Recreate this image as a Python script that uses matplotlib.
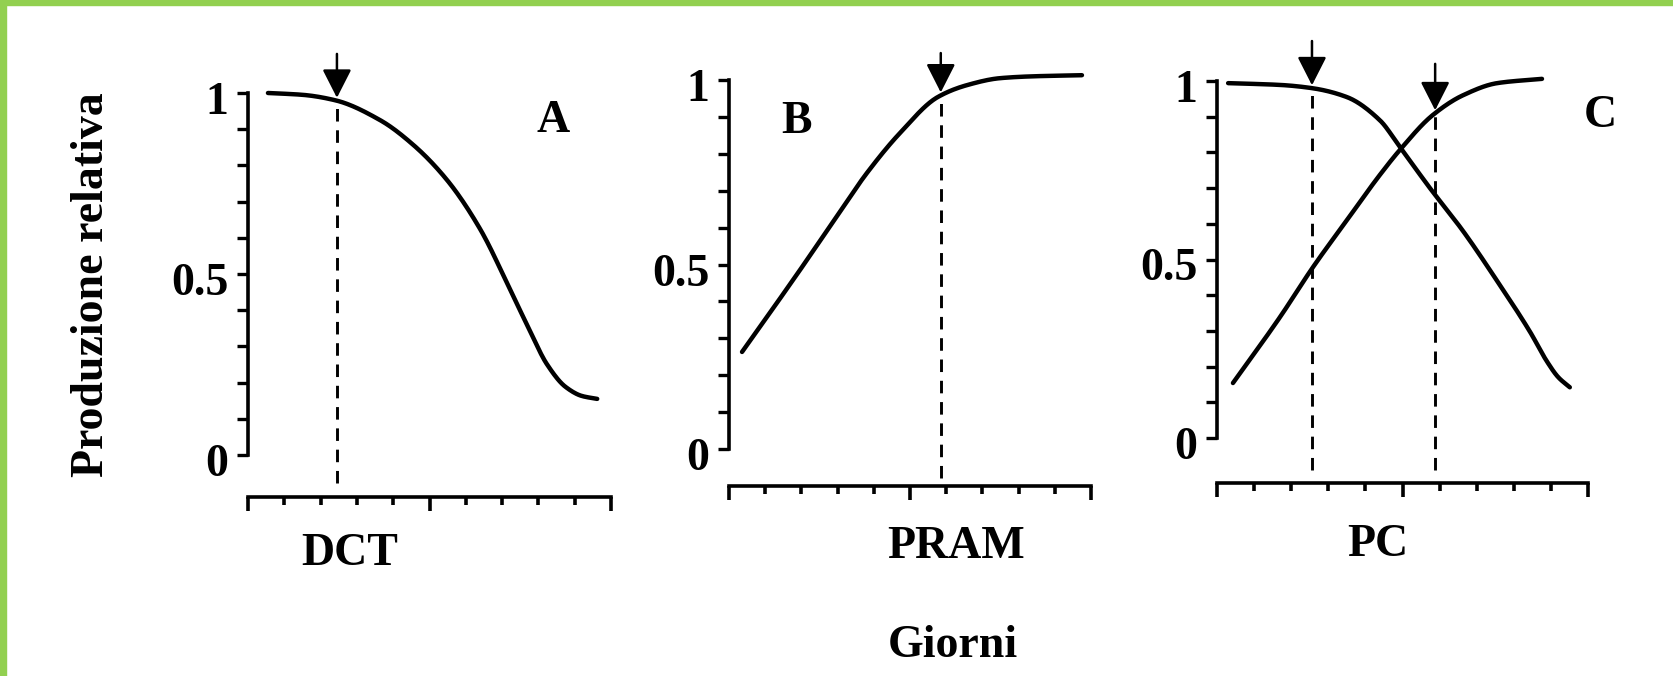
import numpy as np
import matplotlib
matplotlib.use('Agg')
import matplotlib.pyplot as plt
from matplotlib.patches import Rectangle
from matplotlib.transforms import ScaledTranslation

plt.rcParams['font.family'] = ['Liberation Serif', 'DejaVu Serif']
plt.rcParams['font.weight'] = 'bold'

W, H = 1673, 676

# --- dati (giorni 0-10, produzione relativa 0-1) ---
dct_x = [0.55, 1.5, 2.4, 3.64, 4.55, 5.48, 6.39, 7.3, 7.7, 8.24, 8.75, 9.2, 9.62]
dct_y = [1.0, 0.995, 0.98, 0.925, 0.857, 0.76, 0.625, 0.44, 0.357, 0.25, 0.188, 0.163, 0.155]

pram_x = [0.36, 1.05, 1.96, 2.87, 3.81, 4.72, 5.77, 6.57, 7.49, 8.4, 9.75]
pram_y = [0.263, 0.358, 0.485, 0.615, 0.748, 0.856, 0.954, 0.986, 1.005, 1.01, 1.013]

pc_down_x = [0.3, 1.7, 2.56, 3.5, 4.39, 4.93, 5.74, 6.63, 7.55, 8.44, 8.89, 9.2, 9.51]
pc_down_y = [0.994, 0.989, 0.98, 0.955, 0.89, 0.815, 0.7, 0.58, 0.44, 0.297, 0.215, 0.17, 0.142]
pc_up_x = [0.43, 1.7, 2.59, 3.5, 4.39, 4.93, 5.82, 6.63, 7.55, 8.76]
pc_up_y = [0.154, 0.339, 0.479, 0.61, 0.737, 0.807, 0.905, 0.96, 0.994, 1.006]

dct_mark = 2.45
pram_mark = 5.85
pc_marks = [2.56, 5.88]

y_ticks = [0, 0.5, 1]
y_tick_labels = ['0', '0.5', '1']


def smooth(x, y, n=300):
    # interpolazione cubica monotona (Fritsch-Carlson), solo per disegnare
    x = np.asarray(x, float)
    y = np.asarray(y, float)
    h = np.diff(x)
    d = np.diff(y) / h
    m = np.zeros_like(y)
    m[0], m[-1] = d[0], d[-1]
    for i in range(1, len(x) - 1):
        if d[i - 1] * d[i] <= 0:
            m[i] = 0
        else:
            w1 = 2 * h[i] + h[i - 1]
            w2 = h[i] + 2 * h[i - 1]
            m[i] = (w1 + w2) / (w1 / d[i - 1] + w2 / d[i])
    xs = np.linspace(x[0], x[-1], n)
    k = np.clip(np.searchsorted(x, xs) - 1, 0, len(x) - 2)
    t = (xs - x[k]) / h[k]
    h00 = 2 * t ** 3 - 3 * t ** 2 + 1
    h10 = t ** 3 - 2 * t ** 2 + t
    h01 = -2 * t ** 3 + 3 * t ** 2
    h11 = t ** 3 - t ** 2
    ys = h00 * y[k] + h10 * h[k] * m[k] + h01 * y[k + 1] + h11 * h[k] * m[k + 1]
    return xs, ys


def make_axes(fig, x0, x1, y0, y1, xaxis_y):
    ax = fig.add_axes([x0 / W, 1 - y0 / H, (x1 - x0) / W, (y0 - y1) / H])
    ax.set_xlim(0, 10)
    ax.set_ylim(0, 1)
    ax.patch.set_alpha(0)
    for s in ['top', 'right']:
        ax.spines[s].set_visible(False)
    ax.spines['left'].set_linewidth(2.6)
    ax.spines['bottom'].set_linewidth(2.6)
    ax.spines['left'].set_bounds(0, 1)
    ax.spines['bottom'].set_position(('outward', (xaxis_y - y0) * 0.72))
    ax.spines['bottom'].set_bounds(0, 10)
    ax.set_xticks([0, 5, 10])
    ax.set_xticks(np.arange(11), minor=True)
    ax.tick_params(axis='x', which='major', length=10, width=2.6, labelbottom=False)
    ax.tick_params(axis='x', which='minor', length=5.5, width=2.6)
    ax.set_yticks(y_ticks)
    ax.set_yticklabels(y_tick_labels)
    ax.set_yticks(np.arange(0, 1.01, 0.1), minor=True)
    ax.tick_params(axis='y', which='both', length=8, width=2.4, pad=6)
    ax.tick_params(axis='y', which='major', labelsize=33)
    off = ScaledTranslation(0, -0.05, fig.dpi_scale_trans)
    for lab in ax.get_yticklabels():
        lab.set_transform(lab.get_transform() + off)
    return ax


def curve(ax, x, y):
    sx, sy = smooth(x, y)
    ax.plot(sx, sy, color='black', lw=3.2, solid_capstyle='round', clip_on=False)


def marker(ax, xm, x, y, top, bottom):
    sx, sy = smooth(x, y)
    yc = np.interp(xm, sx, sy)
    ax.plot([xm, xm], [bottom, yc], color='black', lw=2.1,
            linestyle=(0, (4.3, 3.0)), clip_on=False)
    ax.annotate('', xy=(xm, yc + 0.008), xytext=(xm, top),
                arrowprops=dict(arrowstyle='-|>,head_length=0.55,head_width=0.28',
                                lw=1.8, color='black',
                                mutation_scale=32, shrinkA=0, shrinkB=0),
                annotation_clip=False)


fig = plt.figure(figsize=(W / 100, H / 100), dpi=100)
fig.patch.set_facecolor('white')

axA = make_axes(fig, 248, 611, 455, 93, 497)
curve(axA, dct_x, dct_y)
marker(axA, dct_mark, dct_x, dct_y, 1.108, -0.077)

axB = make_axes(fig, 729, 1091, 449, 80, 486)
curve(axB, pram_x, pram_y)
marker(axB, pram_mark, pram_x, pram_y, 1.073, -0.079)

axC = make_axes(fig, 1217, 1588, 438, 81, 483)
curve(axC, pc_down_x, pc_down_y)
curve(axC, pc_up_x, pc_up_y)
marker(axC, pc_marks[0], pc_down_x, pc_down_y, 1.112, -0.09)
marker(axC, pc_marks[1], pc_up_x, pc_up_y, 1.048, -0.09)

fs = 33
fig.text(92 / W, 1 - 285 / H, 'Produzione relativa', rotation=90,
         ha='center', va='center', fontsize=fs, fontweight='bold')
fig.text(350 / W, 1 - 565 / H, 'DCT', ha='center', va='baseline', fontsize=fs)
fig.text(956 / W, 1 - 558 / H, 'PRAM', ha='center', va='baseline', fontsize=fs)
fig.text(1378 / W, 1 - 556 / H, 'PC', ha='center', va='baseline', fontsize=fs)
fig.text(953 / W, 1 - 657 / H, 'Giorni', ha='center', va='baseline', fontsize=fs)
fig.text(553 / W, 1 - 132 / H, 'A', ha='center', va='baseline', fontsize=fs)
fig.text(797 / W, 1 - 133 / H, 'B', ha='center', va='baseline', fontsize=fs)
fig.text(1600 / W, 1 - 127 / H, 'C', ha='center', va='baseline', fontsize=fs)

# cornice verde (solo alto e sinistra)
fig.patches.append(Rectangle((0, 1 - 5 / H), 1, 5 / H, transform=fig.transFigure,
                             color='#92d050', zorder=10))
fig.patches.append(Rectangle((0, 0), 6 / W, 1, transform=fig.transFigure,
                             color='#92d050', zorder=10))

fig.savefig('out.png', dpi=100)
